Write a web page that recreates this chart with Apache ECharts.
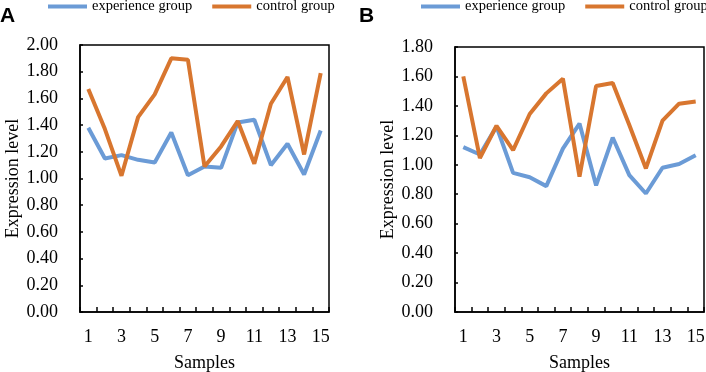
<!DOCTYPE html>
<html>
<head>
<meta charset="utf-8">
<script src="https://cdn.jsdelivr.net/npm/echarts@6/dist/echarts.min.js"></script>
<style>
    html, body { margin: 0; padding: 0; background: #fff; }
    #chart { width: 706px; height: 372px; }
</style>
</head>
<body>
<div id="chart"></div>
<script>
var samples = ['1','2','3','4','5','6','7','8','9','10','11','12','13','14','15'];

// panel A
var expA = [1.38, 1.15, 1.175, 1.14, 1.12, 1.345, 1.025, 1.09, 1.08, 1.42, 1.44, 1.10, 1.26, 1.03, 1.36];
var ctrlA = [1.67, 1.37, 1.02, 1.46, 1.63, 1.90, 1.89, 1.09, 1.24, 1.43, 1.11, 1.56, 1.76, 1.18, 1.79];

// panel B
var expB = [1.12, 1.07, 1.26, 0.945, 0.915, 0.855, 1.11, 1.28, 0.86, 1.185, 0.93, 0.805, 0.98, 1.005, 1.065];
var ctrlB = [1.60, 1.045, 1.265, 1.10, 1.345, 1.485, 1.585, 0.92, 1.535, 1.555, 1.27, 0.975, 1.30, 1.415, 1.43];

var yMaxA = 2.0;
var yMaxB = 1.8;

var blue = '#6b9bd6';
var orange = '#d8762f';
var serif = '"Liberation Serif", "Times New Roman", serif';

function xAxisOf(idx) {
    return {
        type: 'category',
        gridIndex: idx,
        data: samples,
        boundaryGap: true,
        name: 'Samples',
        nameLocation: 'middle',
        nameGap: 42,
        nameTextStyle: {fontFamily: serif, fontSize: 18, color: '#000'},
        axisLine: {lineStyle: {color: '#000', width: 1.5}},
        axisTick: {show: true, inside: true, length: 5, interval: 0, lineStyle: {color: '#000', width: 1.5}},
        axisLabel: {interval: 1, margin: 16, fontFamily: serif, fontSize: 18, color: '#000'},
        splitLine: {show: false}
    };
}

function yAxisOf(idx, max) {
    return {
        type: 'value',
        gridIndex: idx,
        min: 0,
        max: max,
        interval: 0.2,
        name: 'Expression level',
        nameLocation: 'middle',
        nameGap: 56,
        nameTextStyle: {fontFamily: serif, fontSize: 18, color: '#000'},
        axisLine: {show: true, lineStyle: {color: '#000', width: 1.5}},
        axisTick: {show: true, inside: true, length: 3, lineStyle: {color: '#000', width: 1.5}},
        axisLabel: {
            margin: 22, fontFamily: serif, fontSize: 18, color: '#000',
            formatter: function (v) { return v.toFixed(2); }
        },
        splitLine: {show: false}
    };
}

function lineOf(name, data, color, idx) {
    return {
        name: name,
        type: 'line',
        xAxisIndex: idx,
        yAxisIndex: idx,
        data: data,
        symbol: 'none',
        smooth: false,
        lineStyle: {color: color, width: 4},
        itemStyle: {color: color}
    };
}

var legendBase = {
    icon: 'rect',
    itemWidth: 39,
    itemHeight: 4,
    padding: 0,
    top: -1,
    width: 400,
    itemGap: 20,
    textStyle: {fontFamily: serif, fontSize: 14.5, color: '#000'},
    data: ['experience group', 'control group']
};

var chart = echarts.init(document.getElementById('chart'));
chart.setOption({
    animation: false,
    backgroundColor: '#fff',
    title: [
        {text: 'A', left: 0, top: 6, padding: 0, textStyle: {fontFamily: '"Liberation Sans", Arial, sans-serif', fontWeight: 'bold', fontSize: 21, color: '#000'}},
        {text: 'B', left: 359, top: 6, padding: 0, textStyle: {fontFamily: '"Liberation Sans", Arial, sans-serif', fontWeight: 'bold', fontSize: 21, color: '#000'}}
    ],
    legend: [
        Object.assign({}, legendBase, {left: 48}),
        Object.assign({}, legendBase, {left: 421})
    ],
    grid: [
        {left: 80, right: 377, top: 45, bottom: 60, outerBoundsMode: 'none', show: true, borderColor: '#000', borderWidth: 1.5},
        {left: 455, right: 2, top: 47, bottom: 60, outerBoundsMode: 'none', show: true, borderColor: '#000', borderWidth: 1.5}
    ],
    xAxis: [xAxisOf(0), xAxisOf(1)],
    yAxis: [yAxisOf(0, yMaxA), yAxisOf(1, yMaxB)],
    series: [
        lineOf('experience group', expA, blue, 0),
        lineOf('control group', ctrlA, orange, 0),
        lineOf('experience group', expB, blue, 1),
        lineOf('control group', ctrlB, orange, 1)
    ]
});
</script>
</body>
</html>
